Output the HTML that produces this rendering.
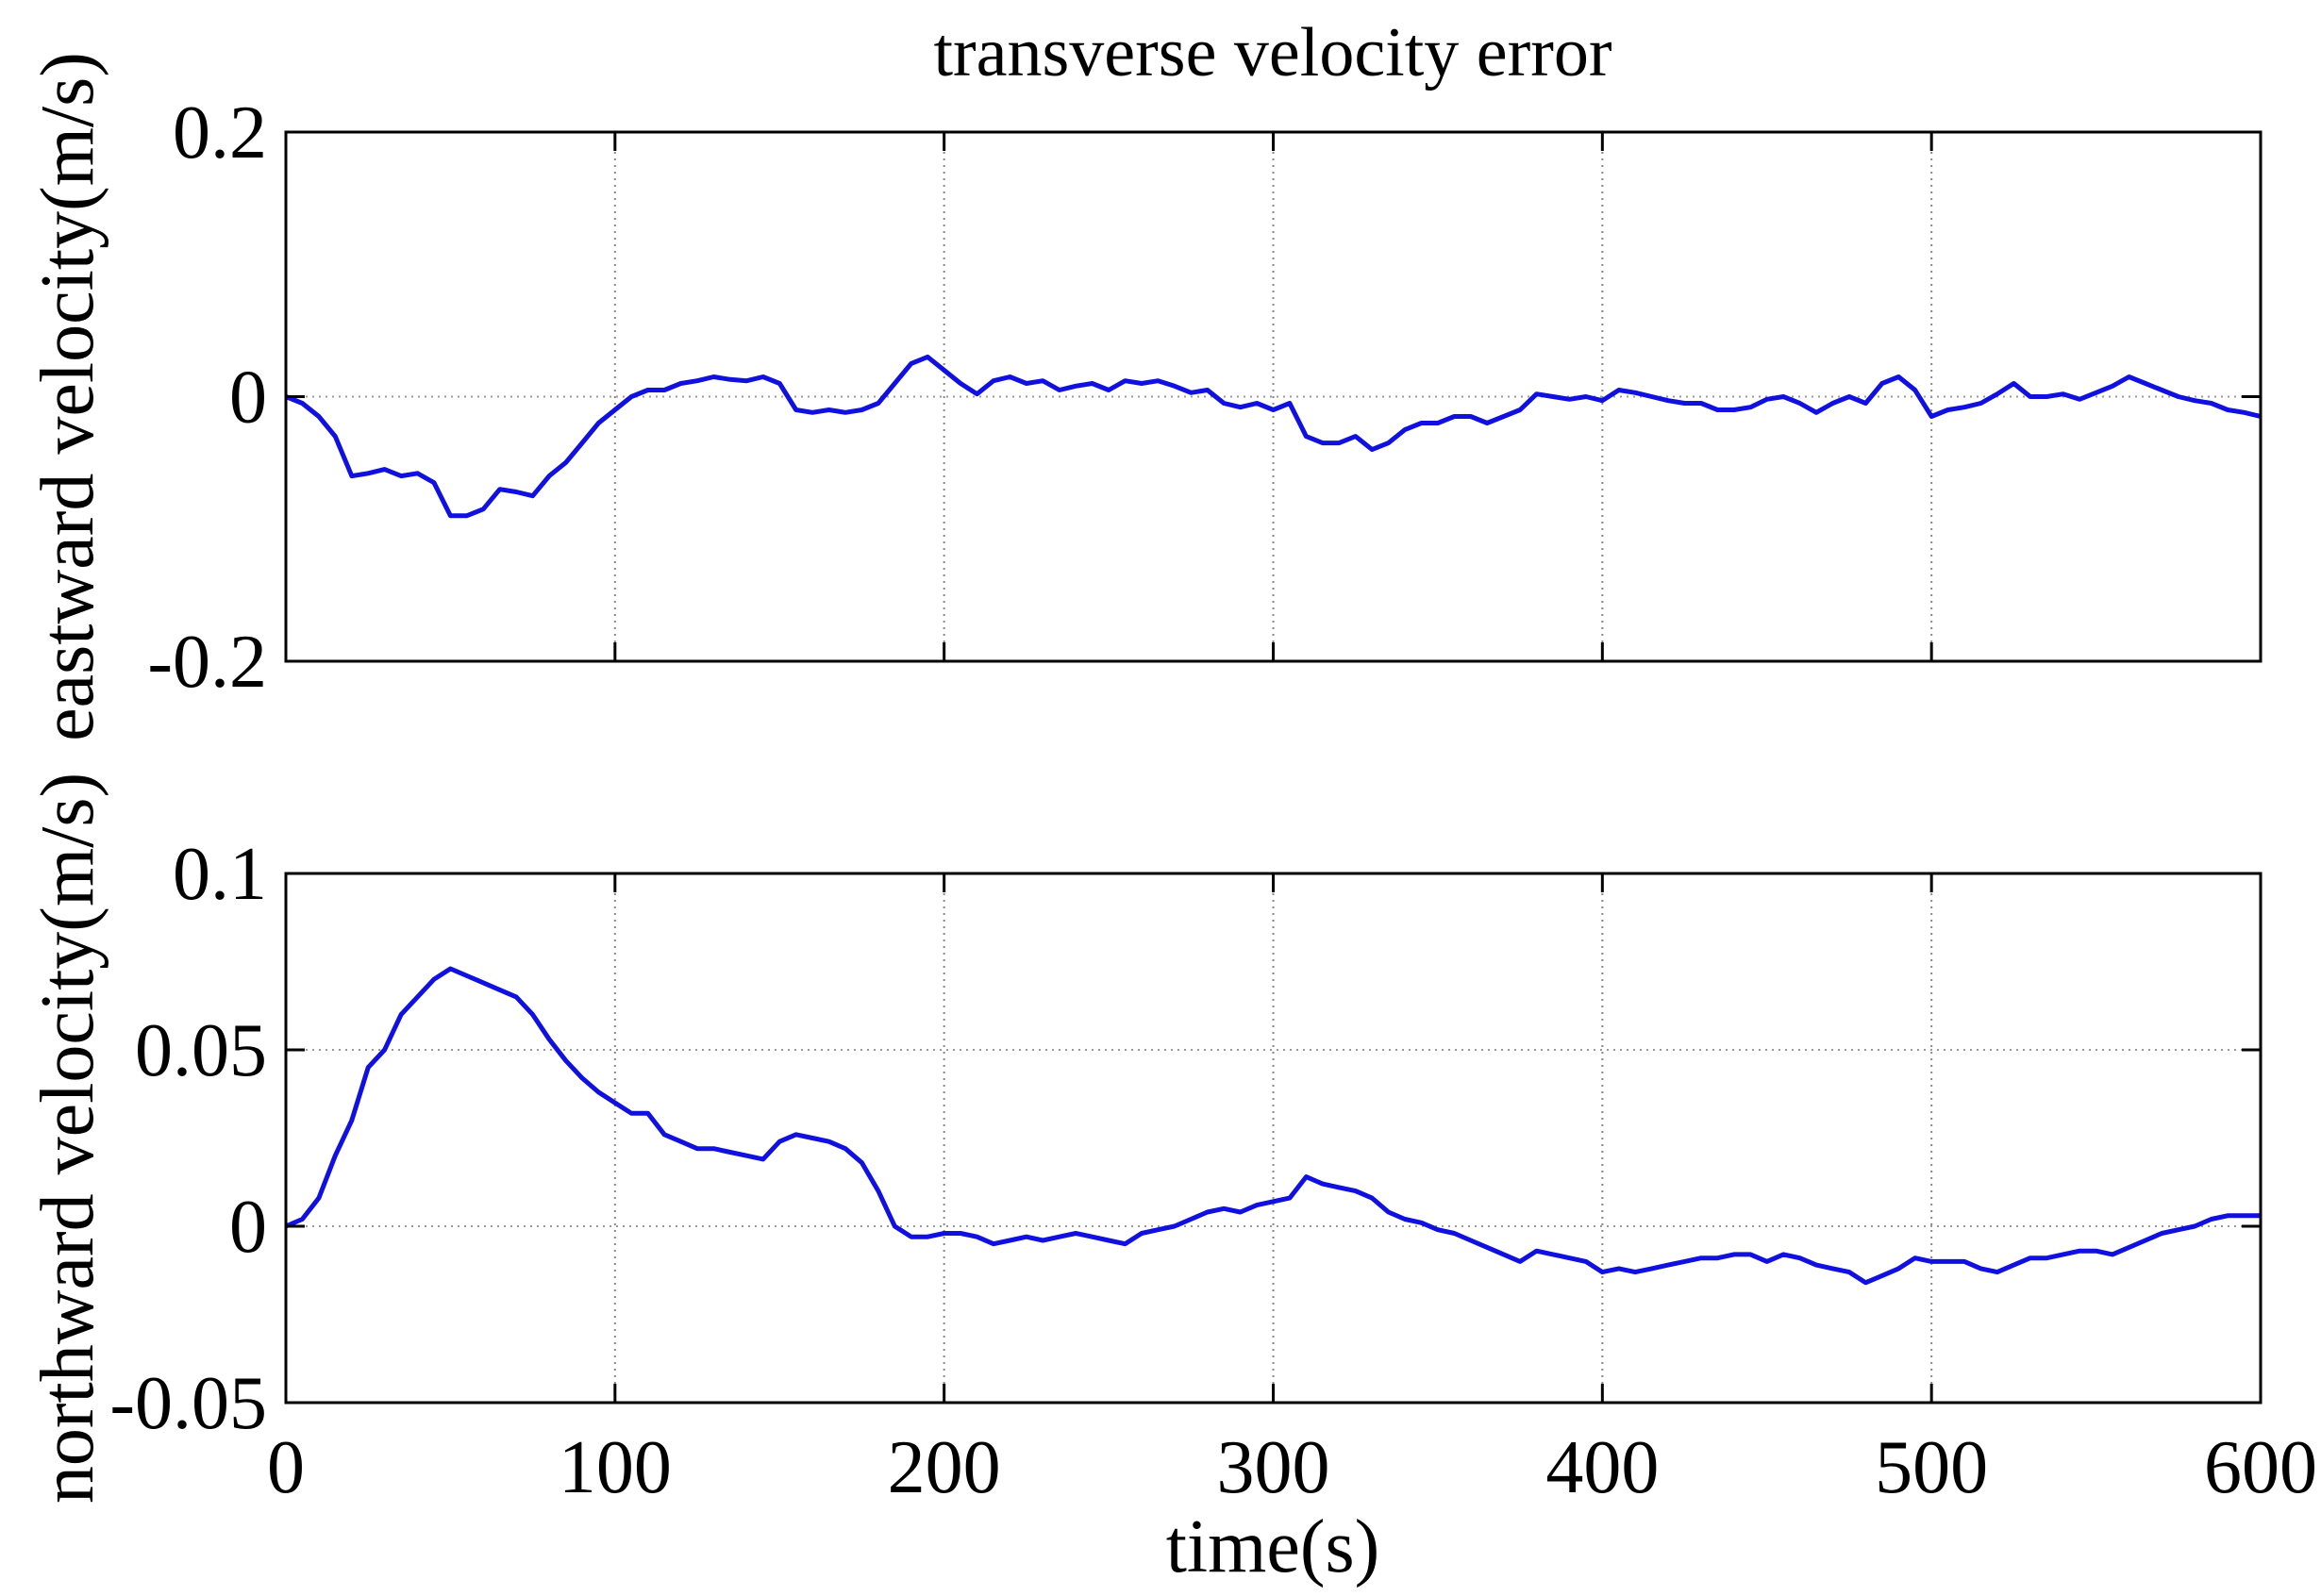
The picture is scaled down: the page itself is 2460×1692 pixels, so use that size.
<!DOCTYPE html>
<html><head><meta charset="utf-8"><style>
html,body{margin:0;padding:0;background:#fff;}
svg{display:block;}
text{font-family:"Liberation Serif",serif;fill:#000;}
</style></head><body>
<svg id="chart" width="2460" height="1692" viewBox="0 0 2460 1692" xmlns="http://www.w3.org/2000/svg">
<text x="1349" y="80" font-size="74" text-anchor="middle">transverse velocity error</text>
<text x="1349" y="1666" font-size="80" text-anchor="middle">time(s)</text>
<g id="plots"></g>
</svg>
<script>
const timeStep = 5;
const xTicks = [0,100,200,300,400,500,600];
const eastTicks = [-0.2,0,0.2];
const eastTickLabels = ["-0.2","0","0.2"];
const northTicks = [-0.05,0,0.05,0.1];
const northTickLabels = ["-0.05","0","0.05","0.1"];
const eastward = [0,-0.005,-0.015,-0.03,-0.06,-0.058,-0.055,-0.06,-0.058,-0.065,-0.09,-0.09,-0.085,-0.07,-0.072,-0.075,-0.06,-0.05,-0.035,-0.02,-0.01,0,0.005,0.005,0.01,0.012,0.015,0.013,0.012,0.015,0.01,-0.01,-0.012,-0.01,-0.012,-0.01,-0.005,0.01,0.025,0.03,0.02,0.01,0.002,0.012,0.015,0.01,0.012,0.005,0.008,0.01,0.005,0.012,0.01,0.012,0.008,0.003,0.005,-0.005,-0.008,-0.005,-0.01,-0.005,-0.03,-0.035,-0.035,-0.03,-0.04,-0.035,-0.025,-0.02,-0.02,-0.015,-0.015,-0.02,-0.015,-0.01,0.002,0,-0.002,0,-0.003,0.005,0.003,0,-0.003,-0.005,-0.005,-0.01,-0.01,-0.008,-0.002,0,-0.005,-0.012,-0.005,0,-0.005,0.01,0.015,0.005,-0.015,-0.01,-0.008,-0.005,0.002,0.01,0,0,0.002,-0.002,0.003,0.008,0.015,0.01,0.005,0,-0.003,-0.005,-0.01,-0.012,-0.015];
const northward = [0,0.002,0.008,0.02,0.03,0.045,0.05,0.06,0.065,0.07,0.073,0.071,0.069,0.067,0.065,0.06,0.053,0.047,0.042,0.038,0.035,0.032,0.032,0.026,0.024,0.022,0.022,0.021,0.02,0.019,0.024,0.026,0.025,0.024,0.022,0.018,0.01,0,-0.003,-0.003,-0.002,-0.002,-0.003,-0.005,-0.004,-0.003,-0.004,-0.003,-0.002,-0.003,-0.004,-0.005,-0.002,-0.001,0,0.002,0.004,0.005,0.004,0.006,0.007,0.008,0.014,0.012,0.011,0.01,0.008,0.004,0.002,0.001,-0.001,-0.002,-0.004,-0.006,-0.008,-0.01,-0.007,-0.008,-0.009,-0.01,-0.013,-0.012,-0.013,-0.012,-0.011,-0.01,-0.009,-0.009,-0.008,-0.008,-0.01,-0.008,-0.009,-0.011,-0.012,-0.013,-0.016,-0.014,-0.012,-0.009,-0.01,-0.01,-0.01,-0.012,-0.013,-0.011,-0.009,-0.009,-0.008,-0.007,-0.007,-0.008,-0.006,-0.004,-0.002,-0.001,0,0.002,0.003,0.003,0.003];

const NS='http://www.w3.org/2000/svg';
const L=303,R=2396;
const g=document.getElementById('plots');
function mk(tag,attrs){const e=document.createElementNS(NS,tag);for(const k in attrs)e.setAttribute(k,attrs[k]);return e;}
function xs(t){return L+(t-0)/(600-0)*(R-L);}

function panel(name,top,bot,ymin,ymax,ticks,tickLabels,data,title,gridY){
  const ys=v=>bot-(v-ymin)/(ymax-ymin)*(bot-top);
  const grp=mk('g',{});
  
  
  g.appendChild(grp);
  xTicks.slice(1,-1).forEach(t=>{
    const l=mk('line',{x1:xs(t),x2:xs(t),y1:top,y2:bot,stroke:'#888','stroke-width':2,'stroke-dasharray':'2,5'});
    
    
    grp.appendChild(l);
  });
  gridY.forEach(v=>{
    const l=mk('line',{x1:L,x2:R,y1:ys(v),y2:ys(v),stroke:'#999','stroke-width':2,'stroke-dasharray':'2,5'});
    
    
    grp.appendChild(l);
  });
  let d='';
  data.forEach((v,i)=>{d+=(i?'L':'M')+xs(i*timeStep).toFixed(1)+','+ys(v).toFixed(1);});
  const p=mk('path',{d:d,fill:'none',stroke:'#1010e0','stroke-width':5,'stroke-linejoin':'round'});
  
  
  grp.appendChild(p);
  const fr=mk('rect',{x:L,y:top,width:R-L,height:bot-top,fill:'none',stroke:'#000','stroke-width':3});
  
  
  grp.appendChild(fr);
  xTicks.forEach(t=>{
    const a=mk('line',{x1:xs(t),x2:xs(t),y1:bot,y2:bot-20,stroke:'#000','stroke-width':3});
    
    
    grp.appendChild(a);
    const b=mk('line',{x1:xs(t),x2:xs(t),y1:top,y2:top+20,stroke:'#000','stroke-width':3});
    
    
    grp.appendChild(b);
  });
  ticks.forEach((v,i)=>{
    const a=mk('line',{x1:L,x2:L+20,y1:ys(v),y2:ys(v),stroke:'#000','stroke-width':3});
    
    
    grp.appendChild(a);
    const b=mk('line',{x1:R,x2:R-20,y1:ys(v),y2:ys(v),stroke:'#000','stroke-width':3});
    
    
    grp.appendChild(b);
    const tx=mk('text',{x:L-20,y:ys(v)+27,'font-size':80,'text-anchor':'end'});
    tx.textContent=tickLabels[i];
    
    
    grp.appendChild(tx);
  });
  const cy=(top+bot)/2;
  const yt=mk('text',{x:0,y:0,'font-size':80,'text-anchor':'middle',transform:'translate(98,'+cy+') rotate(-90)'});
  yt.textContent=title;
  
  
  grp.appendChild(yt);
}
panel('eastward',140,701,-0.2,0.2,eastTicks,eastTickLabels,eastward,'eastward velocity(m/s)',[0]);
panel('northward',926,1487,-0.05,0.1,northTicks,northTickLabels,northward,'northward velocity(m/s)',[0,0.05]);
xTicks.forEach(t=>{
  const tx=mk('text',{x:xs(t),y:1582,'font-size':80,'text-anchor':'middle'});
  tx.textContent=String(t);
  
  
  g.appendChild(tx);
});
</script>
</body></html>
